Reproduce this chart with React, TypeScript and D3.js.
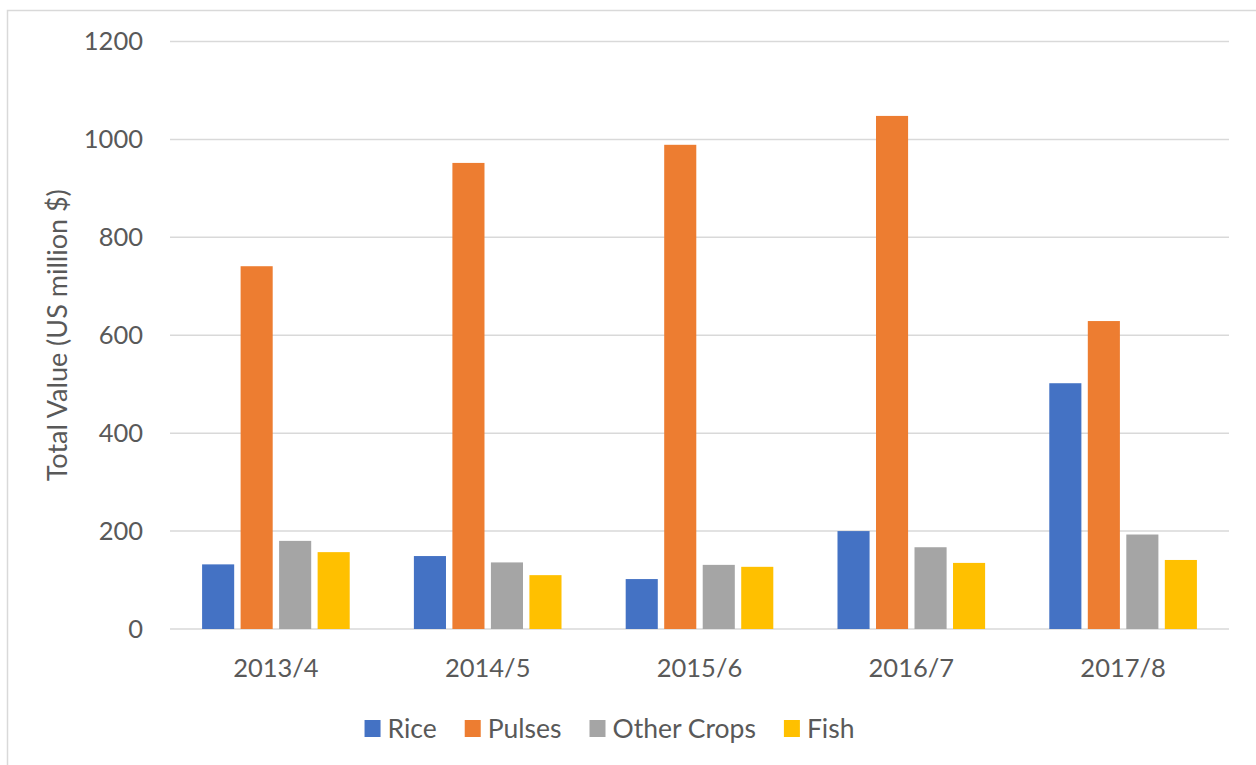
import { useEffect, useRef } from 'react';
import * as d3 from 'd3';

const years = ['2013/4', '2014/5', '2015/6', '2016/7', '2017/8'];
const seriesNames = ['Rice', 'Pulses', 'Other Crops', 'Fish'];
const rice = [132, 149, 102, 200, 502];
const pulses = [741, 952, 989, 1048, 629];
const otherCrops = [180, 136, 131, 167, 193];
const fish = [157, 110, 127, 135, 141];
const yTicks = [0, 200, 400, 600, 800, 1000, 1200];
const colors = ['#4472C4', '#ED7D31', '#A5A5A5', '#FFC000'];

const W = 1256;
const H = 765;
const FONT = 'Lato, "Open Sans", sans-serif';
const TEXT = '#595959';
const GRID = '#d9d9d9';

export default function App() {
  const svgRef = useRef<SVGSVGElement>(null);

  useEffect(() => {
    document.body.style.margin = '0';
    if (!svgRef.current) return;
    const root = d3.select(svgRef.current);
    root.selectAll('*').remove();

    const values = [rice, pulses, otherCrops, fish];
    const plot = { left: 170, right: 1229, top: 41.5, bottom: 629 };

    // chart frame (only top/left edges fall inside the page)
    root
      .append('rect')
      .attr('x', 7.5)
      .attr('y', 10.5)
      .attr('width', W + 20)
      .attr('height', H + 20)
      .attr('fill', 'none')
      .attr('stroke', GRID)
      .attr('stroke-width', 1.5);

    const y = d3.scaleLinear().domain([0, 1200]).range([plot.bottom, plot.top]);
    const x0 = d3
      .scaleBand<string>()
      .domain(years)
      .range([plot.left, plot.right])
      .paddingInner(2 / 6.6)
      .paddingOuter(1 / 6.6);
    const x1 = d3
      .scaleBand<number>()
      .domain(d3.range(seriesNames.length))
      .range([0, x0.bandwidth()])
      .paddingInner(1 / 6);

    // gridlines
    root
      .append('g')
      .selectAll('line')
      .data(yTicks)
      .join('line')
      .attr('x1', plot.left)
      .attr('x2', plot.right)
      .attr('y1', (d) => y(d))
      .attr('y2', (d) => y(d))
      .attr('stroke', GRID)
      .attr('stroke-width', 1.5);

    // y tick labels
    root
      .append('g')
      .selectAll('text')
      .data(yTicks)
      .join('text')
      .attr('x', 143)
      .attr('y', (d) => y(d))
      .attr('dy', '0.35em')
      .attr('text-anchor', 'end')
      .attr('font-family', FONT)
      .attr('font-size', '25.5px')
      .attr('fill', TEXT)
      .text((d) => d);

    // bars
    const groups = root
      .append('g')
      .selectAll('g')
      .data(years)
      .join('g')
      .attr('transform', (d) => `translate(${x0(d)},0)`);

    groups
      .selectAll('rect')
      .data((_, i) => values.map((s, k) => ({ k, v: s[i] })))
      .join('rect')
      .attr('x', (d) => x1(d.k)!)
      .attr('y', (d) => y(d.v))
      .attr('width', x1.bandwidth())
      .attr('height', (d) => y(0) - y(d.v))
      .attr('fill', (d) => colors[d.k]);

    // x labels
    root
      .append('g')
      .selectAll('text')
      .data(years)
      .join('text')
      .attr('x', (d) => x0(d)! + x0.bandwidth() / 2)
      .attr('y', 677)
      .attr('text-anchor', 'middle')
      .attr('font-family', FONT)
      .attr('font-size', '25.5px')
      .attr('fill', TEXT)
      .text((d) => d);

    // y title
    root
      .append('text')
      .attr('transform', `translate(67,${(plot.top + plot.bottom) / 2}) rotate(-90)`)
      .attr('text-anchor', 'middle')
      .attr('font-family', FONT)
      .attr('font-size', '27px')
      .attr('fill', TEXT)
      .text('Total Value (US million $)');

    // legend
    const legend = root.append('g');
    const items = legend
      .selectAll('g')
      .data(seriesNames)
      .join('g');
    items
      .append('rect')
      .attr('y', 720)
      .attr('width', 16)
      .attr('height', 17)
      .attr('fill', (_, i) => colors[i]);
    items
      .append('text')
      .attr('x', 23)
      .attr('y', 738)
      .attr('font-family', FONT)
      .attr('font-size', '26.5px')
      .attr('fill', TEXT)
      .text((d) => d);

    const widths = items.nodes().map((n) => 23 + (n.querySelector('text') as SVGTextElement).getComputedTextLength());
    const gap = 28;
    const total = d3.sum(widths) + gap * (widths.length - 1);
    let cx = 609.5 - total / 2;
    items.attr('transform', (_, i) => {
      const t = `translate(${cx},0)`;
      cx += widths[i] + gap;
      return t;
    });
  }, []);

  return <svg ref={svgRef} width={W} height={H} style={{ display: 'block', background: '#fff' }} />;
}
